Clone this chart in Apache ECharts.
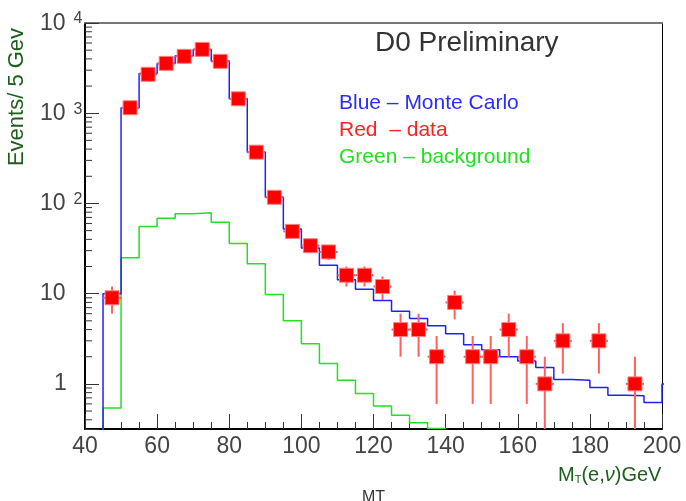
<!DOCTYPE html>
<html><head><meta charset="utf-8">
<script src="https://cdn.jsdelivr.net/npm/echarts@6/dist/echarts.min.js"></script>
<style>html,body{margin:0;padding:0;background:#fff}#c{width:686px;height:501px}</style>
</head><body><div id="c"></div>
<script>
// ---- axis ranges ----
const xMin = 40, xMax = 200, xTickStep = 20;
const yMin = 0.3162, yMax = 10000;
const binWidth = 5;

// ---- Monte Carlo histogram (blue), low edges of bins ----
const mcBinLowEdges = [45,50,55,60,65,70,75,80,85,90,95,100,105,110,115,120,125,130,135,140,145,150,155,160,165,170,175,180,185,190,195,200];
const mcCounts = [10,1150,2750,3550,4340,5100,3790,1445,370,117,52,32,20.6,14.3,11.2,8.4,6.4,5.3,4.4,3.6,2.72,2.39,2.0,1.79,1.52,1.12,1.1,0.91,0.75,0.74,0.62,1.0];

// ---- background histogram (green) ----
const bgBinLowEdges = [45,50,55,60,65,70,75,80,85,90,95,100,105,110,115,120,125,130,135];
const bgCounts = [0.54,25,55.4,68.6,77,79,61.8,35.9,21.5,9.8,5.0,2.79,1.68,1.1,0.78,0.57,0.45,0.37,0.32];

// ---- data points (red) ----
const dataBinCenters = [47.5,52.5,57.5,62.5,67.5,72.5,77.5,82.5,87.5,92.5,97.5,102.5,107.5,112.5,117.5,122.5,127.5,132.5,137.5,142.5,147.5,152.5,157.5,162.5,167.5,172.5,182.5,192.5];
const dataCounts = [9,1150,2700,3570,4270,5100,3760,1445,370,117,49,34,29,16,16,12,4,4,2,8,2,2,4,2,1,3,3,1];
const dataErrors = [3,34,52,60,65,71,61,38,19,11,7,5.8,5.4,4,4,3.5,2,2,1.4,2.8,1.4,1.4,2,1.4,1,1.7,1.7,1];

// ---- texts ----
const titleText = 'D0 Preliminary';
const legendLines = [
  {text: 'Blue – Monte Carlo', color: '#2b2bff'},
  {text: 'Red  – data', color: '#ff2020'},
  {text: 'Green – background', color: '#22e022'}
];
const yTitle = 'Events/ 5 Gev';
const xTitle = 'MT';

const FONT = 'Liberation Sans';
const FLOOR = 0.01;

function stepPoints(edges, counts) {
  const pts = [[edges[0], FLOOR]];
  for (let i = 0; i < edges.length; i++) pts.push([edges[i] + binWidth, counts[i]]);
  return pts;
}

// minor tick positions on log axis (axis decoration)
const minorTickVals = [];
for (let k = -1; k <= 3; k++) for (let m = 2; m <= 9; m++) {
  const v = m * Math.pow(10, k);
  if (v > yMin && v < yMax) minorTickVals.push(v);
}

function yLabel(v) {
  const e = Math.round(Math.log10(v));
  if (Math.abs(Math.log10(v) - e) > 1e-6) return '';
  if (e === 0) return '{p|1}';
  if (e === 1) return '{c|10}';
  return '{b|10}{s|' + e + '}';
}

const chart = echarts.init(document.getElementById('c'), null, {renderer: 'canvas'});
chart.setOption({
  animation: false,
  backgroundColor: '#fff',
  textStyle: {fontFamily: FONT},
  grid: {left: 85, right: 24, top: 23, bottom: 72, containLabel: false, outerBoundsMode: 'none'},
  xAxis: [{
    type: 'value', min: xMin, max: xMax, interval: xTickStep,
    axisLine: {show: true, onZero: false, lineStyle: {color: '#000', width: 2}},
    axisTick: {show: true, inside: true, length: 15, lineStyle: {color: '#333', width: 1}},
    minorTick: {show: true, splitNumber: 4, length: 7, lineStyle: {color: '#333', width: 1}},
    splitLine: {show: false},
    axisLabel: {fontFamily: FONT, fontSize: 23, color: '#444', margin: 6},
    name: xTitle, nameLocation: 'middle', nameGap: 61,
    nameTextStyle: {fontFamily: FONT, fontSize: 16, color: '#333'}
  }, {
    type: 'value', min: xMin, max: xMax, position: 'top',
    axisLine: {show: true, onZero: false, lineStyle: {color: '#777', width: 2}},
    axisTick: {show: false}, axisLabel: {show: false}, splitLine: {show: false}
  }],
  yAxis: [{
    type: 'log', logBase: 10, min: yMin, max: yMax,
    axisLine: {show: true, onZero: false, lineStyle: {color: '#000', width: 2}},
    axisTick: {show: true, inside: true, length: 14, lineStyle: {color: '#333', width: 1}},
    splitLine: {show: false},
    axisLabel: {
      align: 'left', margin: 45, formatter: yLabel, color: '#444',
      rich: {
        b: {fontFamily: FONT, fontSize: 23, color: '#444', lineHeight: 24, padding: [7, 0, 0, 0], verticalAlign: 'bottom'},
        s: {fontFamily: FONT, fontSize: 16, color: '#444', lineHeight: 16, padding: [0, 0, 0, 8], verticalAlign: 'top'},
        c: {fontFamily: FONT, fontSize: 23, color: '#444', lineHeight: 24},
        p: {fontFamily: FONT, fontSize: 23, color: '#444', lineHeight: 24, padding: [0, 0, 0, 14]}
      }
    }
  }, {
    type: 'value', min: 0, max: 1, position: 'right',
    axisLine: {show: true, onZero: false, lineStyle: {color: '#000', width: 1}},
    axisTick: {show: false}, axisLabel: {show: false}, splitLine: {show: false}
  }],
  graphic: [
    {type: 'text', left: 375, top: 29, style: {text: titleText, fontFamily: FONT, fontSize: 28, fill: '#333'}},
    ...legendLines.map((l, i) => ({
      type: 'text', left: 339, top: 93 + i * 27,
      style: {text: l.text, fontFamily: FONT, fontSize: 21, fill: l.color}
    })),
    {type: 'text', x: 17, y: 97, rotation: Math.PI / 2,
      style: {text: yTitle, fontFamily: FONT, fontSize: 22, fill: '#1c5e1c', align: 'center', verticalAlign: 'middle'}},
    {type: 'text', left: 558, top: 465,
      style: {text: '{m|M}{t|T}{m|(e,}{n|ν}{m|)GeV}', fill: '#1c5e1c',
        rich: {
          m: {fontFamily: FONT, fontSize: 20, fill: '#1c5e1c', verticalAlign: 'bottom', lineHeight: 22},
          t: {fontFamily: FONT, fontSize: 11, fill: '#1c5e1c', verticalAlign: 'bottom', lineHeight: 18},
          n: {fontFamily: FONT, fontSize: 20, fontStyle: 'italic', fill: '#1c5e1c', verticalAlign: 'bottom', lineHeight: 22}
        }}}
  ],
  series: [
    {
      type: 'line', name: 'background', step: 'start', showSymbol: false, clip: true,
      data: stepPoints(bgBinLowEdges, bgCounts),
      lineStyle: {color: '#22e022', width: 1.5}, z: 2
    },
    {
      type: 'line', name: 'Monte Carlo', step: 'start', showSymbol: false, clip: true,
      data: stepPoints(mcBinLowEdges, mcCounts),
      lineStyle: {color: '#2020ff', width: 1.5}, z: 3
    },
    {
      type: 'custom', name: 'data', clip: true, z: 5,
      data: dataBinCenters.map((x, i) => [x, dataCounts[i], dataErrors[i]]),
      renderItem: function (params, api) {
        const x = api.value(0), n = api.value(1), e = api.value(2);
        const c = api.coord([x, n]);
        const l = api.coord([x - binWidth / 2, n])[0];
        const r = api.coord([x + binWidth / 2, n])[0];
        const top = api.coord([x, n + e])[1];
        const bot = api.coord([x, Math.max(n - e, FLOOR)])[1];
        const s = 14;
        return {type: 'group', children: [
          {type: 'line', shape: {x1: l, y1: c[1], x2: r, y2: c[1]}, style: {stroke: '#ff5050', lineWidth: 2}},
          {type: 'line', shape: {x1: c[0], y1: top, x2: c[0], y2: bot}, style: {stroke: '#ff6060', lineWidth: 2}},
          {type: 'rect', shape: {x: c[0] - s / 2, y: c[1] - s / 2, width: s, height: s}, style: {fill: '#ff0000', stroke: '#ff8080', lineWidth: 1}}
        ]};
      }
    },
    {
      type: 'custom', name: 'minorTicks', clip: false, silent: true, z: 6,
      data: minorTickVals.map(v => [xMin, v]),
      renderItem: function (params, api) {
        const p = api.coord([api.value(0), api.value(1)]);
        return {type: 'line', shape: {x1: p[0], y1: p[1], x2: p[0] + 7, y2: p[1]}, style: {stroke: '#333', lineWidth: 1}};
      }
    }
  ]
});
</script></body></html>
